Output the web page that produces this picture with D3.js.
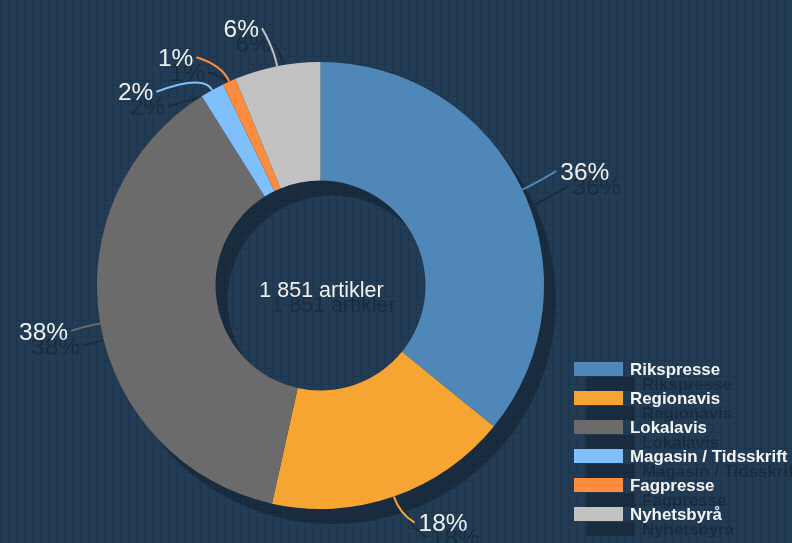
<!DOCTYPE html>
<html lang="no">
<head>
  <meta charset="UTF-8">
  <title>Artikler etter kildetype</title>
  <style>
    body {
      margin: 0;
      padding: 0;
      background: #213a52;
      font-family: "Liberation Sans", Arial, sans-serif;
    }
  </style>
</head>
<body>
<svg width="792" height="543"></svg>
<script src="https://d3js.org/d3.v7.min.js"></script>
<script>
// data (article counts, total 1 851)
const categories = ["Rikspresse", "Regionavis", "Lokalavis", "Magasin / Tidsskrift", "Fagpresse", "Nyhetsbyrå"];
const counts = [664, 326, 696, 32, 18, 115];
const colors = ["#4f87b8", "#f6a533", "#6b6b6b", "#7fbffc", "#fd8c3f", "#c2c2c2"];
const totalLabel = "1 851 artikler";

// label nudges (layout only), relative to the default spot outside the ring
const labelNudge = [[10, -7], [12, 1], [-3, 3], [-43, 25], [-22, 0], [-10, -12]];

const width = 792, height = 543;
const cx = 320.5, cy = 285.5;
const outerR = 223.5, innerR = 105;
const shadowDx = 12, shadowDy = 15;

const svg = d3.select("svg");

// faint grid texture on the background
const defs = svg.append("defs");
const pat = defs.append("pattern")
  .attr("id", "grid")
  .attr("width", 8).attr("height", 8)
  .attr("patternUnits", "userSpaceOnUse");
pat.append("rect").attr("width", 8).attr("height", 8).attr("fill", "#223c54");
pat.append("path")
  .attr("d", "M0 0.5 H8 M0.5 0 V8")
  .attr("stroke", "#1e3650").attr("stroke-width", 1);
svg.append("rect").attr("width", width).attr("height", height).attr("fill", "url(#grid)");

const data = categories.map((c, i) => ({ name: c, value: counts[i], color: colors[i], nudge: labelNudge[i] }));
const total = d3.sum(counts);
const pct = d3.format(".0%");

const pie = d3.pie().sort(null).value(d => d.value);
const arcs = pie(data);
const arc = d3.arc().innerRadius(innerR).outerRadius(outerR);

function polar(a, r) {
  return [cx + r * Math.sin(a), cy - r * Math.cos(a)];
}

arcs.forEach(d => {
  const mid = (d.startAngle + d.endAngle) / 2;
  d.mid = mid;
  d.p0 = polar(mid, outerR);
  d.q = polar(mid, outerR + 18);
  const def = polar(mid, 250);
  d.lp = [def[0] + d.data.nudge[0], def[1] + d.data.nudge[1]];
  d.right = d.lp[0] > cx;
});

function draw(g, shadow) {
  const fill = d => shadow ? "#000" : d.data.color;

  if (shadow) {
    g.append("path")
      .attr("transform", `translate(${cx},${cy})`)
      .attr("d", d3.arc().innerRadius(innerR).outerRadius(outerR)({ startAngle: 0, endAngle: 2 * Math.PI }))
      .attr("fill", "#000");
  } else {
    g.append("g")
      .attr("transform", `translate(${cx},${cy})`)
      .selectAll("path")
      .data(arcs)
      .join("path")
      .attr("d", arc)
      .attr("fill", d => d.data.color);
  }

  // connectors
  g.selectAll("path.conn")
    .data(arcs)
    .join("path")
    .attr("class", "conn")
    .attr("fill", "none")
    .attr("stroke", fill)
    .attr("stroke-width", 2)
    .attr("d", d => `M${d.p0[0]},${d.p0[1]} Q${d.q[0]},${d.q[1]} ${d.lp[0]},${d.lp[1]}`);

  // percent labels
  g.selectAll("text.pct")
    .data(arcs)
    .join("text")
    .attr("class", "pct")
    .attr("x", d => d.lp[0] + (d.right ? 4 : -3))
    .attr("y", d => d.lp[1])
    .attr("dy", "0.35em")
    .attr("text-anchor", d => d.right ? "start" : "end")
    .attr("font-size", 24.5)
    .attr("fill", shadow ? "#000" : "#f0f0f0")
    .text(d => pct(Math.round(d.value / total * 100) / 100));

  // centre text
  g.append("text")
    .attr("x", cx + 1)
    .attr("y", cy + 4)
    .attr("dy", "0.35em")
    .attr("text-anchor", "middle")
    .attr("font-size", 21.5)
    .attr("fill", shadow ? "#000" : "#f0f0f0")
    .text(totalLabel);

  // legend
  const leg = g.append("g").attr("transform", "translate(574,362)");
  const row = leg.selectAll("g")
    .data(data)
    .join("g")
    .attr("transform", (d, i) => `translate(0,${i * 29})`);
  row.append("rect")
    .attr("width", 49).attr("height", 14)
    .attr("fill", d => shadow ? "#000" : d.color);
  row.append("text")
    .attr("x", 56).attr("y", 13)
    .attr("font-size", 16.9)
    .attr("font-weight", "bold")
    .attr("fill", shadow ? "#000" : "#f4f4f4")
    .text(d => d.name);
}

const shadowG = svg.append("g")
  .attr("transform", `translate(${shadowDx},${shadowDy})`)
  .attr("opacity", 0.24);
draw(shadowG, true);

const mainG = svg.append("g");
draw(mainG, false);
</script>
</body>
</html>
